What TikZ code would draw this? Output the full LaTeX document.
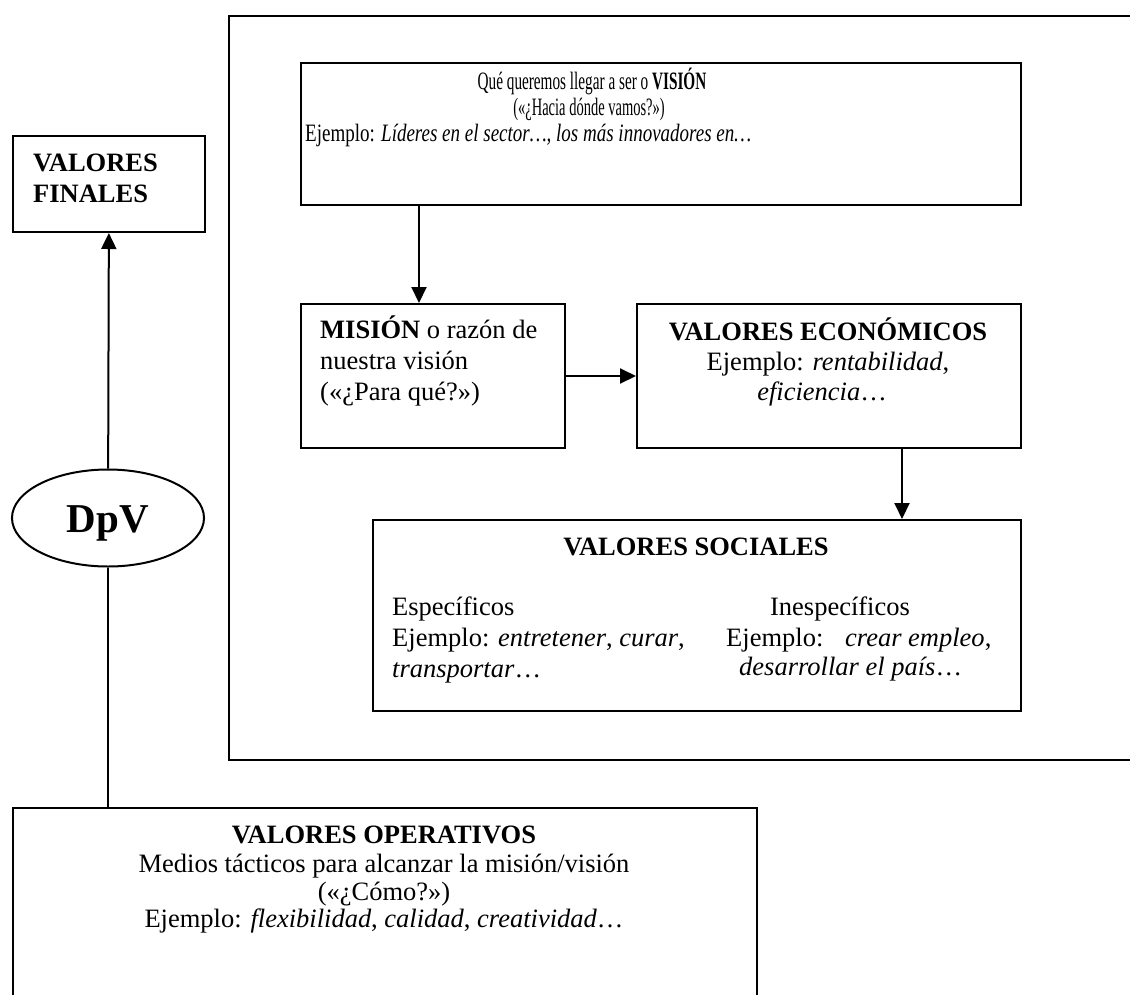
\documentclass[tikz,border=0pt]{standalone}
\usepackage{graphicx}
\usepackage{fontspec}
\setmainfont{Liberation Serif}
\usetikzlibrary{arrows.meta,shapes.geometric}
% condensed lines of the vision box
\newcommand{\condensed}[2][0.6]{\scalebox{#1}[1]{#2}}
\begin{document}
\begin{tikzpicture}[x=1pt,y=-1pt,
  box/.style={draw,line width=2pt,rectangle,inner sep=0pt,anchor=north west},
  txt/.style={inner sep=0pt,font=\fontsize{26.5}{31}\selectfont},
  vtxt/.style={inner sep=0pt,font=\fontsize{25}{26}\selectfont},
  arr/.style={line width=2pt,-{Triangle[length=16pt,width=15pt]}},
  link/.style={line width=2pt}]
\useasboundingbox (0,0) rectangle (1130,994);
\clip (0,0) rectangle (1130,994);

% boxes
\node[box,minimum width=192,minimum height=96] (finales) at (12,135) {};
\node[box,minimum width=960,minimum height=744] (frame) at (228,15) {};
\node[box,minimum width=720,minimum height=142] (vision) at (300,62) {};
\node[box,minimum width=264,minimum height=144] (mision) at (300,303) {};
\node[box,minimum width=384,minimum height=144] (econ) at (636,303) {};
\node[box,minimum width=648,minimum height=191] (social) at (372,519) {};
\node[box,minimum width=744,minimum height=230] (oper) at (12,807) {};
\node[draw,line width=2pt,ellipse,minimum width=192,minimum height=97,inner sep=0pt]
  (dpv) at (108,518) {};

% texts
\node[txt,anchor=base west] (tf1) at (33,171) {\textbf{VALORES}};
\node[txt,anchor=base west] (tf2) at (33,202) {\textbf{FINALES}};

\node[inner sep=0pt,anchor=base,font=\fontsize{41}{48}\selectfont\bfseries] (tdpv) at (108,532) {DpV};

\node[vtxt,anchor=base] (tv1) at (592,89) {\condensed[0.61]{Qué queremos llegar a ser o \textbf{VISIÓN}}};
\node[vtxt,anchor=base] (tv2) at (589,115) {\condensed[0.58]{(«¿Hacia dónde vamos?»)}};
\node[vtxt,anchor=base west] (tv3) at (305,141) {\condensed[0.76]{Ejemplo: \textit{Líderes en el sector…, los más innovadores en…}}};

\node[txt,anchor=base west] (tm1) at (320,338) {\textbf{MISIÓN} o razón de};
\node[txt,anchor=base west] (tm2) at (320,369) {nuestra visión};
\node[txt,anchor=base west] (tm3) at (320,400) {(«¿Para qué?»)};

\node[txt,anchor=base] (te1) at (828,340) {\textbf{VALORES ECONÓMICOS}};
\node[txt,anchor=base] (te2) at (828,370) {Ejemplo: \textit{rentabilidad},};
\node[txt,anchor=base] (te3) at (822,400) {\textit{eficiencia}…};

\node[txt,anchor=base] (ts0) at (696,555) {\textbf{VALORES SOCIALES}};
\node[txt,anchor=base west] (ts1) at (392,615) {Específicos};
\node[txt,anchor=base west] (ts2) at (392,646) {Ejemplo: \textit{entretener}, \textit{curar},};
\node[txt,anchor=base west] (ts3) at (392,677) {\textit{transportar}…};
\node[txt,anchor=base] (ts4) at (840,615) {Inespecíficos};
\node[txt,anchor=base west] (ts5) at (726,646) {Ejemplo:\hspace{13pt} \textit{crear empleo},};
\node[txt,anchor=base west] (ts6) at (739,675) {\textit{desarrollar el país}…};

\node[txt,anchor=base] (to1) at (384,843) {\textbf{VALORES OPERATIVOS}};
\node[txt,anchor=base] (to2) at (384,872) {Medios tácticos para alcanzar la misión/visión};
\node[txt,anchor=base] (to3) at (384,900) {(«¿Cómo?»)};
\node[txt,anchor=base] (to4) at (384,927) {Ejemplo: \textit{flexibilidad}, \textit{calidad}, \textit{creatividad}…};

% connectors
\coordinate (vm) at (419,0);
\coordinate (es) at (902,0);
\draw[arr] (dpv) -- (finales);
\draw[link] (oper.north -| dpv.south) -- (dpv.south);
\draw[arr] (vision.south -| vm) -- (mision.north -| vm);
\draw[arr] (mision.east) -- (econ.west);
\draw[arr] (econ.south -| es) -- (social.north -| es);
\end{tikzpicture}
\end{document}
